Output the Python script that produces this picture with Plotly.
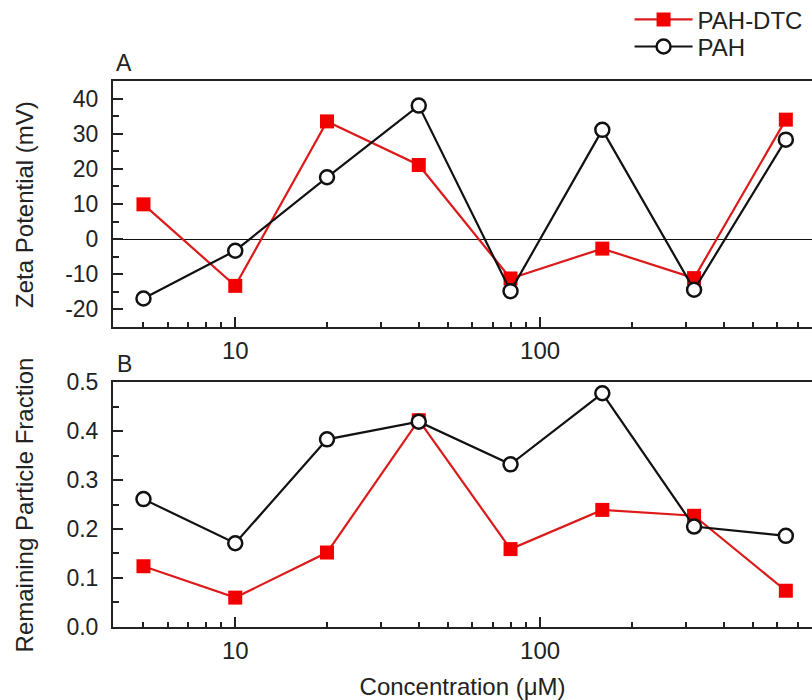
import plotly.graph_objects as go

# Concentration series (µM)
concentration = [5, 10, 20, 40, 80, 160, 320, 640]

# Panel A: zeta potential (mV)
zeta_pah_dtc = [9.9, -13.3, 33.5, 21.1, -11.2, -2.7, -11.1, 34.0]
zeta_pah = [-16.9, -3.3, 17.6, 38.0, -14.8, 31.1, -14.4, 28.3]

# Panel B: remaining particle fraction
frac_pah_dtc = [0.124, 0.060, 0.152, 0.422, 0.159, 0.239, 0.227, 0.074]
frac_pah = [0.261, 0.171, 0.383, 0.419, 0.332, 0.477, 0.205, 0.186]

series_names = ["PAH-DTC", "PAH"]
x_major = [10, 100]
x_major_text = ["10", "100"]
x_minor = [5, 6, 7, 8, 9, 20, 30, 40, 50, 60, 70, 80, 90, 200, 300, 400, 500, 600, 700]
zeta_ticks = [-20, -10, 0, 10, 20, 30, 40]
zeta_tick_text = ["-20", "-10", "0", "10", "20", "30", "40"]
frac_ticks = [0.0, 0.1, 0.2, 0.3, 0.4, 0.5]
frac_tick_text = ["0.0", "0.1", "0.2", "0.3", "0.4", "0.5"]

RED_LINE = "#dc1a1a"
RED_MARK = "#f20000"
BLACK = "#111111"
AXIS = "#222222"
TEXT = "#222222"
FONT = "Liberation Sans, Arial, sans-serif"
FS = 24
FS_Y = 23

fig = go.Figure()


def add_pair(y_red, y_black, xa, ya, legend):
    fig.add_trace(go.Scatter(
        x=concentration, y=y_red, mode="lines+markers", name=series_names[0],
        line=dict(color=RED_LINE, width=2.2),
        marker=dict(symbol="square", size=14, color=RED_MARK,
                    line=dict(width=0)),
        xaxis=xa, yaxis=ya, showlegend=legend, legend="legend"))
    fig.add_trace(go.Scatter(
        x=concentration, y=y_black, mode="lines+markers", name=series_names[1],
        line=dict(color=BLACK, width=2.2),
        marker=dict(symbol="circle", size=14, color="white",
                    line=dict(width=2.5, color=BLACK)),
        xaxis=xa, yaxis=ya, showlegend=legend, legend="legend2"))


add_pair(zeta_pah_dtc, zeta_pah, "x", "y", True)
add_pair(frac_pah_dtc, frac_pah, "x2", "y2", False)

xaxis_common = dict(
    type="log", range=[0.599, 2.892],
    tickmode="array", tickvals=x_major, ticktext=x_major_text,
    ticks="inside", ticklen=10, tickwidth=1.5, tickcolor=AXIS,
    minor=dict(tickmode="array", tickvals=x_minor, ticks="inside",
               ticklen=5, tickwidth=1.5, tickcolor=AXIS, showgrid=False),
    showline=True, linecolor=AXIS, linewidth=2, mirror=True,
    showgrid=False, zeroline=False,
    ticklabelstandoff=1,
    tickfont=dict(size=FS, color=TEXT),
)

yaxis_common = dict(
    ticks="inside", ticklen=10, tickwidth=1.5, tickcolor=AXIS,
    showline=True, linecolor=AXIS, linewidth=2, mirror=False,
    showgrid=False, tickmode="array",
    ticklabelstandoff=8,
    tickfont=dict(size=FS_Y, color=TEXT),
)

legend_common = dict(xanchor="left", yanchor="middle",
                     bgcolor="rgba(0,0,0,0)", itemwidth=58,
                     font=dict(size=FS, color=TEXT))

fig.update_layout(
    width=812, height=700,
    margin=dict(l=113, r=0, t=81, b=73, autoexpand=False),
    paper_bgcolor="white", plot_bgcolor="white",
    font=dict(family=FONT, color=TEXT),
    xaxis=dict(**xaxis_common, domain=[0, 1], anchor="y"),
    xaxis2=dict(**xaxis_common, domain=[0, 1], anchor="y2",
                title=dict(text="Concentration (\u03bcM)",
                           font=dict(size=FS, color=TEXT), standoff=16)),
    yaxis=dict(**yaxis_common, domain=[0.5495, 1.0], anchor="x",
               range=[-25, 45], tickvals=zeta_ticks, ticktext=zeta_tick_text,
               minor=dict(ticks="inside", ticklen=6, tickwidth=1.5,
                          tickcolor=AXIS, dtick=5, tick0=0, showgrid=False),
               zeroline=True, zerolinecolor="#111", zerolinewidth=1.2),
    yaxis2=dict(**yaxis_common, domain=[0, 0.4487], anchor="x2",
                range=[0, 0.5], tickvals=frac_ticks, ticktext=frac_tick_text,
                minor=dict(ticks="inside", ticklen=6, tickwidth=1.5,
                           tickcolor=AXIS, dtick=0.05, tick0=0, showgrid=False),
                zeroline=False),
    legend=dict(**legend_common, x=0.739, y=1.112),
    legend2=dict(**legend_common, x=0.739, y=1.0625),
    annotations=[
        dict(text="A", xref="paper", yref="paper", x=0, y=1.0,
             xanchor="left", yanchor="bottom", xshift=1, yshift=3,
             showarrow=False, font=dict(size=FS_Y, color=TEXT)),
        dict(text="B", xref="paper", yref="paper", x=0, y=0.4487,
             xanchor="left", yanchor="bottom", xshift=2, yshift=3,
             showarrow=False, font=dict(size=FS_Y, color=TEXT)),
        dict(text="Zeta Potential (mV)", xref="paper", yref="paper",
             x=-0.126, y=(1.0 + 0.5495) / 2, textangle=-90,
             xanchor="center", yanchor="middle", showarrow=False,
             font=dict(size=FS, color=TEXT)),
        dict(text="Remaining Particle Fraction", xref="paper", yref="paper",
             x=-0.126, y=0.4487 / 2, textangle=-90,
             xanchor="center", yanchor="middle", showarrow=False,
             font=dict(size=FS, color=TEXT)),
    ],
)

fig.write_html("out.html")
